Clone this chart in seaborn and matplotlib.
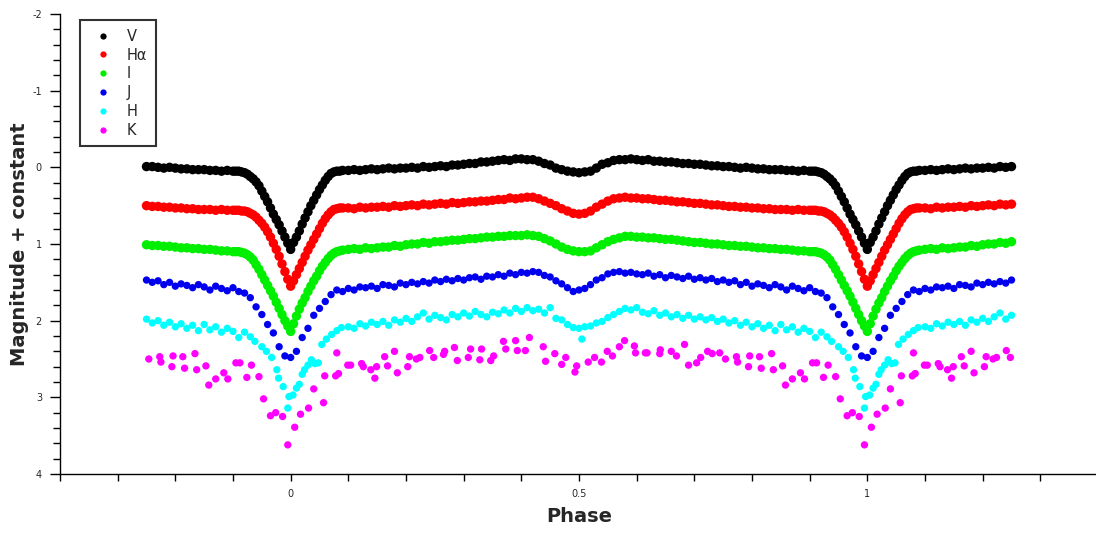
import matplotlib
matplotlib.use("Agg")
import matplotlib.pyplot as plt
import pandas as pd
import seaborn as sns
from matplotlib.lines import Line2D
from matplotlib.ticker import MultipleLocator, FixedLocator

sns.set_style("ticks")
plt.rcParams['font.family'] = ['DejaVu Sans']
plt.rcParams['axes.unicode_minus'] = False

# ---------------- data (one orbital period, phase 0..1) ----------------
PHASE_DENSE = [0.000, 0.005, 0.010, 0.015, 0.020, 0.025, 0.030, 0.035, 0.040, 0.045,
               0.050, 0.055, 0.060, 0.065, 0.070, 0.075, 0.080, 0.085, 0.090,
               0.10, 0.11, 0.12, 0.13, 0.14, 0.15, 0.16, 0.17, 0.18, 0.19,
               0.20, 0.21, 0.22, 0.23, 0.24, 0.25, 0.26, 0.27, 0.28, 0.29,
               0.30, 0.31, 0.32, 0.33, 0.34, 0.35, 0.36, 0.37, 0.38, 0.39,
               0.40, 0.41, 0.42, 0.43, 0.44, 0.45, 0.46, 0.47, 0.48, 0.49,
               0.50, 0.51, 0.52, 0.53, 0.54, 0.55, 0.56, 0.57, 0.58, 0.59,
               0.60, 0.61, 0.62, 0.63, 0.64, 0.65, 0.66, 0.67, 0.68, 0.69,
               0.70, 0.71, 0.72, 0.73, 0.74, 0.75, 0.76, 0.77, 0.78, 0.79,
               0.80, 0.81, 0.82, 0.83, 0.84, 0.85, 0.86, 0.87, 0.88, 0.89,
               0.90, 0.905, 0.910, 0.915, 0.920, 0.925, 0.930, 0.935, 0.940, 0.945,
               0.950, 0.955, 0.960, 0.965, 0.970, 0.975, 0.980, 0.985, 0.990, 0.995]

V_MAG = [1.07, 0.98, 0.91, 0.83, 0.74, 0.66, 0.58, 0.50, 0.43, 0.36,
         0.29, 0.23, 0.17, 0.12, 0.08, 0.06, 0.05, 0.05, 0.04,
         0.04, 0.03, 0.04, 0.03, 0.02, 0.03, 0.02, 0.01, 0.02, 0.01,
         0.01, 0.00, 0.01, -0.01, 0.00, -0.01, -0.02, -0.01, -0.03, -0.03,
         -0.04, -0.05, -0.05, -0.07, -0.07, -0.08, -0.09, -0.10, -0.09, -0.11,
         -0.11, -0.10, -0.10, -0.08, -0.05, -0.03, 0.01, 0.03, 0.05, 0.06,
         0.07, 0.06, 0.05, 0.01, -0.04, -0.06, -0.09, -0.10, -0.10, -0.11,
         -0.10, -0.09, -0.10, -0.08, -0.08, -0.07, -0.07, -0.06, -0.05, -0.05,
         -0.04, -0.04, -0.03, -0.02, -0.02, -0.01, -0.01, 0.00, 0.01, 0.00,
         0.01, 0.02, 0.02, 0.03, 0.03, 0.03, 0.04, 0.04, 0.05, 0.04,
         0.05, 0.05, 0.05, 0.06, 0.07, 0.09, 0.12, 0.15, 0.19, 0.24,
         0.31, 0.38, 0.45, 0.53, 0.61, 0.68, 0.75, 0.83, 0.91, 0.99]

HA_MAG = [1.55, 1.48, 1.40, 1.32, 1.24, 1.16, 1.08, 1.01, 0.94, 0.87,
          0.80, 0.73, 0.67, 0.62, 0.58, 0.55, 0.54, 0.53, 0.53,
          0.53, 0.54, 0.52, 0.53, 0.52, 0.52, 0.51, 0.52, 0.50, 0.51,
          0.50, 0.49, 0.50, 0.48, 0.49, 0.48, 0.47, 0.48, 0.46, 0.47,
          0.46, 0.45, 0.45, 0.44, 0.44, 0.43, 0.42, 0.42, 0.40, 0.41,
          0.40, 0.39, 0.39, 0.41, 0.44, 0.47, 0.50, 0.54, 0.57, 0.60,
          0.61, 0.60, 0.57, 0.52, 0.48, 0.44, 0.41, 0.40, 0.39, 0.40,
          0.40, 0.41, 0.41, 0.42, 0.43, 0.43, 0.44, 0.45, 0.45, 0.46,
          0.47, 0.47, 0.48, 0.49, 0.49, 0.50, 0.51, 0.51, 0.52, 0.52,
          0.53, 0.53, 0.54, 0.54, 0.55, 0.55, 0.55, 0.56, 0.55, 0.56,
          0.56, 0.56, 0.56, 0.57, 0.57, 0.58, 0.60, 0.62, 0.65, 0.69,
          0.73, 0.78, 0.84, 0.91, 0.99, 1.07, 1.16, 1.26, 1.36, 1.46]

I_MAG = [2.14, 2.04, 1.94, 1.85, 1.77, 1.70, 1.62, 1.55, 1.48, 1.42,
         1.35, 1.29, 1.24, 1.19, 1.15, 1.12, 1.10, 1.09, 1.08,
         1.07, 1.06, 1.07, 1.05, 1.06, 1.05, 1.04, 1.04, 1.02, 1.03,
         1.01, 1.00, 1.00, 0.98, 0.99, 0.97, 0.97, 0.96, 0.95, 0.95,
         0.94, 0.93, 0.93, 0.92, 0.91, 0.91, 0.90, 0.90, 0.89, 0.89,
         0.89, 0.88, 0.89, 0.90, 0.93, 0.96, 1.00, 1.04, 1.07, 1.09,
         1.10, 1.10, 1.09, 1.05, 1.01, 0.97, 0.94, 0.92, 0.90, 0.90,
         0.91, 0.91, 0.92, 0.92, 0.93, 0.94, 0.94, 0.95, 0.96, 0.97,
         0.98, 0.98, 0.99, 1.00, 1.00, 1.01, 1.02, 1.02, 1.03, 1.03,
         1.04, 1.05, 1.05, 1.06, 1.06, 1.07, 1.07, 1.08, 1.09, 1.09,
         1.10, 1.10, 1.10, 1.11, 1.12, 1.14, 1.17, 1.21, 1.27, 1.33,
         1.40, 1.47, 1.54, 1.61, 1.68, 1.76, 1.84, 1.92, 2.00, 2.07]

PHASE_J = [0.00, 0.01, 0.02, 0.03, 0.04, 0.05, 0.06, 0.07, 0.08, 0.09,
           0.10, 0.11, 0.12, 0.13, 0.14, 0.15, 0.16, 0.17, 0.18, 0.19,
           0.20, 0.21, 0.22, 0.23, 0.24, 0.25, 0.26, 0.27, 0.28, 0.29,
           0.30, 0.31, 0.32, 0.33, 0.34, 0.35, 0.36, 0.37, 0.38, 0.39,
           0.40, 0.41, 0.42, 0.43, 0.44, 0.45, 0.46, 0.47, 0.48, 0.49,
           0.50, 0.51, 0.52, 0.53, 0.54, 0.55, 0.56, 0.57, 0.58, 0.59,
           0.60, 0.61, 0.62, 0.63, 0.64, 0.65, 0.66, 0.67, 0.68, 0.69,
           0.70, 0.71, 0.72, 0.73, 0.74, 0.75, 0.76, 0.77, 0.78, 0.79,
           0.80, 0.81, 0.82, 0.83, 0.84, 0.85, 0.86, 0.87, 0.88, 0.89,
           0.90, 0.91, 0.92, 0.93, 0.94, 0.95, 0.96, 0.97, 0.98, 0.99]
J_MAG = [2.48, 2.40, 2.22, 2.10, 1.93, 1.84, 1.75, 1.66, 1.60, 1.62,
         1.58, 1.60, 1.56, 1.57, 1.55, 1.58, 1.53, 1.54, 1.56, 1.51,
         1.53, 1.50, 1.52, 1.49, 1.51, 1.47, 1.49, 1.46, 1.48, 1.45,
         1.47, 1.44, 1.43, 1.46, 1.42, 1.43, 1.40, 1.42, 1.38, 1.40,
         1.37, 1.38, 1.36, 1.37, 1.41, 1.43, 1.48, 1.52, 1.57, 1.62,
         1.60, 1.58, 1.53, 1.47, 1.44, 1.39, 1.37, 1.36, 1.38, 1.37,
         1.39, 1.40, 1.38, 1.42, 1.40, 1.44, 1.41, 1.43, 1.45, 1.42,
         1.46, 1.44, 1.47, 1.45, 1.49, 1.47, 1.50, 1.48, 1.53, 1.50,
         1.55, 1.52, 1.54, 1.57, 1.53, 1.56, 1.60, 1.55, 1.58, 1.61,
         1.57, 1.62, 1.64, 1.70, 1.82, 1.92, 2.05, 2.16, 2.34, 2.46]

PHASE_H = [0.004, 0.010, 0.015, 0.020, 0.024, 0.030, 0.036, 0.042, 0.048, 0.054,
           0.062, 0.071, 0.080, 0.088,
           0.10, 0.11, 0.12, 0.13, 0.14, 0.15, 0.16, 0.17, 0.18, 0.19,
           0.20, 0.21, 0.22, 0.23, 0.24, 0.25, 0.26, 0.27, 0.28, 0.29,
           0.30, 0.31, 0.32, 0.33, 0.34, 0.35, 0.36, 0.37, 0.38, 0.39,
           0.40, 0.41, 0.42, 0.43, 0.44, 0.45, 0.46, 0.47, 0.48, 0.49,
           0.50, 0.505,
           0.51, 0.52, 0.53, 0.54, 0.55, 0.56, 0.57, 0.58, 0.59,
           0.60, 0.61, 0.62, 0.63, 0.64, 0.65, 0.66, 0.67, 0.68, 0.69,
           0.70, 0.71, 0.72, 0.73, 0.74, 0.75, 0.76, 0.77, 0.78, 0.79,
           0.80, 0.81, 0.82, 0.83, 0.84, 0.85, 0.86, 0.87, 0.88, 0.89,
           0.90, 0.91, 0.92, 0.93, 0.938, 0.95, 0.958, 0.967, 0.976, 0.979,
           0.987, 0.995, 0.997]
H_MAG = [2.97, 2.88, 2.83, 2.70, 2.64, 2.58, 2.51, 2.56, 2.55, 2.31,
         2.24, 2.18, 2.13, 2.09,
         2.08, 2.10, 2.04, 2.07, 2.02, 2.05, 2.01, 2.06, 1.99, 2.02,
         1.97, 2.01, 1.95, 1.90, 1.98, 1.93, 1.96, 1.99, 1.92, 1.95,
         1.90, 1.94, 1.88, 1.92, 1.95, 1.89, 1.91, 1.86, 1.90, 1.84,
         1.88, 1.83, 1.87, 1.85, 1.90, 1.83, 1.97, 1.99, 2.05, 2.09,
         2.10, 2.24,
         2.08, 2.07, 2.03, 2.01, 1.96, 1.92, 1.88, 1.84, 1.86,
         1.83, 1.89, 1.91, 1.87, 1.93, 1.90, 1.95, 1.92, 1.97, 1.93,
         1.98, 1.95, 1.99, 1.96, 2.01, 1.98, 2.03, 2.00, 2.06, 2.02,
         2.08, 2.04, 2.10, 2.06, 2.13, 2.05, 2.12, 2.08, 2.15, 2.10,
         2.14, 2.22, 2.15, 2.21, 2.27, 2.34, 2.40, 2.48, 2.64, 2.75,
         2.86, 3.14, 2.99]

PHASE_K = [0.007, 0.017, 0.031, 0.040, 0.057, 0.059, 0.078, 0.080, 0.083, 0.099,
           0.104, 0.123, 0.126, 0.139, 0.146, 0.149, 0.163, 0.168, 0.180, 0.185,
           0.203, 0.206, 0.218, 0.224, 0.241, 0.248, 0.265, 0.267, 0.284, 0.289,
           0.308, 0.312, 0.328, 0.331, 0.347, 0.352, 0.369, 0.373, 0.390, 0.393,
           0.407, 0.414, 0.438, 0.442, 0.458, 0.470, 0.477, 0.493, 0.496, 0.516,
           0.527, 0.539, 0.549, 0.558, 0.570, 0.579, 0.596, 0.598, 0.615, 0.618,
           0.640, 0.641, 0.660, 0.669, 0.683, 0.690, 0.704, 0.711, 0.723, 0.731,
           0.744, 0.754, 0.773, 0.775, 0.794, 0.796, 0.813, 0.816, 0.834, 0.837,
           0.853, 0.858, 0.870, 0.884, 0.891, 0.905, 0.912, 0.924, 0.932, 0.945,
           0.953, 0.965, 0.974, 0.986, 0.995]
K_MAG = [3.39, 3.22, 3.14, 2.89, 3.07, 2.72, 2.72, 2.42, 2.69, 2.58,
         2.58, 2.56, 2.60, 2.64, 2.75, 2.60, 2.47, 2.59, 2.40, 2.68,
         2.60, 2.47, 2.50, 2.48, 2.39, 2.48, 2.44, 2.40, 2.35, 2.52,
         2.48, 2.37, 2.51, 2.37, 2.52, 2.46, 2.27, 2.37, 2.26, 2.39,
         2.39, 2.22, 2.34, 2.53, 2.43, 2.57, 2.48, 2.67, 2.59, 2.54,
         2.48, 2.54, 2.40, 2.46, 2.34, 2.26, 2.33, 2.42, 2.42, 2.42,
         2.43, 2.38, 2.40, 2.46, 2.31, 2.58, 2.55, 2.48, 2.40, 2.43,
         2.42, 2.50, 2.47, 2.54, 2.60, 2.46, 2.47, 2.62, 2.43, 2.64,
         2.59, 2.84, 2.76, 2.68, 2.76, 2.55, 2.55, 2.74, 2.58, 2.73,
         3.02, 3.24, 3.20, 3.25, 3.62]

BANDS = ["V", "H\u03b1", "I", "J", "H", "K"]
COLORS = ["#000000", "#ff0000", "#00ee00", "#0000ee", "#00ffff", "#ff00ff"]
X_TICKS = [0, 0.5, 1]
X_TICK_LABELS = ["0", "0.5", "1"]
Y_TICKS = [-2, -1, 0, 1, 2, 3, 4]


def folded(phase, mag, band):
    """Repeat one period so the plot covers phase -0.25 .. 1.25."""
    base = pd.DataFrame({"phase": phase, "mag": mag})
    out = pd.concat([base.assign(phase=base["phase"] - 1), base,
                     base.assign(phase=base["phase"] + 1)], ignore_index=True)
    out = out[(out["phase"] >= -0.2505) & (out["phase"] <= 1.2505)].copy()
    out["band"] = band
    return out


dense = pd.concat([folded(PHASE_DENSE, V_MAG, BANDS[0]),
                   folded(PHASE_DENSE, HA_MAG, BANDS[1]),
                   folded(PHASE_DENSE, I_MAG, BANDS[2])], ignore_index=True)
sparse = pd.concat([folded(PHASE_J, J_MAG, BANDS[3]),
                    folded(PHASE_H, H_MAG, BANDS[4]),
                    folded(PHASE_K, K_MAG, BANDS[5])], ignore_index=True)
palette = dict(zip(BANDS, COLORS))

fig = plt.figure(figsize=(10.96, 5.33), dpi=100)
ax = fig.add_axes([60 / 1096, 59 / 533, 1038 / 1096, 460 / 533])

sns.scatterplot(data=dense, x="phase", y="mag", hue="band", hue_order=BANDS[:3],
                palette=palette, s=46, linewidth=0, legend=False, ax=ax)
sns.scatterplot(data=sparse, x="phase", y="mag", hue="band", hue_order=BANDS[3:],
                palette=palette, s=28, linewidth=0, legend=False, ax=ax)

ax.set_xlim(-0.4, 1.4)
ax.set_ylim(4, -2)
sns.despine(ax=ax)
for side in ("left", "bottom"):
    ax.spines[side].set_color("black")
    ax.spines[side].set_linewidth(1.0)

ax.xaxis.set_major_locator(FixedLocator(X_TICKS))
ax.set_xticklabels(X_TICK_LABELS)
ax.xaxis.set_minor_locator(MultipleLocator(0.1))
ax.yaxis.set_major_locator(FixedLocator(Y_TICKS))
ax.set_yticklabels([str(t) for t in Y_TICKS])
ax.yaxis.set_minor_locator(MultipleLocator(0.2))
ax.tick_params(axis="x", which="both", direction="out", length=5, width=1,
               color="black", labelsize=7, pad=6)
ax.tick_params(axis="y", which="major", direction="out", length=7, width=1,
               color="black", labelsize=7, pad=6)
ax.tick_params(axis="y", which="minor", direction="out", length=5, width=1,
               color="black")

ax.set_xlabel("Phase", fontsize=14, fontweight="bold")
ax.set_ylabel("Magnitude + constant", fontsize=14, fontweight="bold")
ax.xaxis.set_label_coords(0.5, -(517 - 474) / 460)
ax.xaxis.label.set_va("center")
ax.yaxis.set_label_coords(-40 / 1038, 0.5)
ax.yaxis.label.set_va("center")

handles = [Line2D([], [], marker="o", linestyle="none", markersize=4.5,
                  markerfacecolor=c, markeredgewidth=0) for c in COLORS]
leg = ax.legend(handles, BANDS, loc="upper left",
                bbox_to_anchor=(80 / 1096, 1 - 20 / 533), bbox_transform=fig.transFigure,
                borderaxespad=0, fontsize=10.5, frameon=True, fancybox=False,
                framealpha=1, edgecolor="#333333", borderpad=0.6,
                handlelength=2.0, handletextpad=0.6, labelspacing=0.26)
leg.get_frame().set_linewidth(1.5)

fig.savefig("out.png", dpi=100)
